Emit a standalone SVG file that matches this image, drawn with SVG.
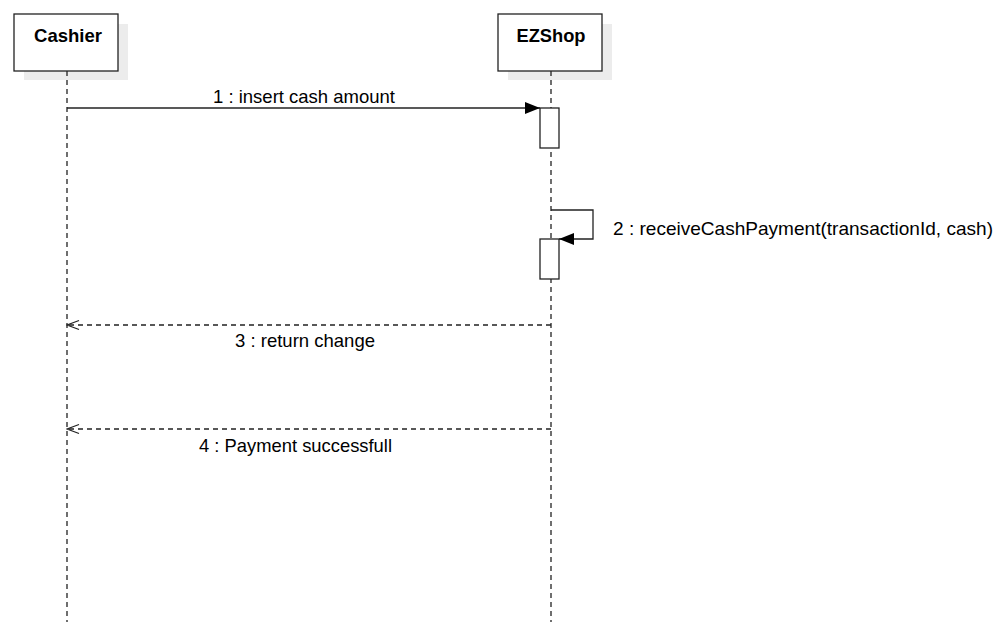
<svg xmlns="http://www.w3.org/2000/svg" width="1000" height="638" viewBox="0 0 1000 638">
<defs>
<style>
.box{fill:#fff;stroke:#222;stroke-width:1.3}
.shadow{fill:#ececec}
.name{font-family:"Liberation Sans",Arial,sans-serif;font-size:18.5px;font-weight:bold;fill:#000;text-anchor:middle}
.life{stroke:#222;stroke-width:1.3;stroke-dasharray:5,4;fill:none}
.msg{stroke:#222;stroke-width:1.3;fill:none}
.ret{stroke:#222;stroke-width:1.3;stroke-dasharray:5,4;fill:none}
.lbl{font-family:"Liberation Sans",Arial,sans-serif;font-size:18.5px;fill:#000}
.act{fill:#fff;stroke:#222;stroke-width:1.3}
</style>
<marker id="filled" markerWidth="16" markerHeight="12" refX="15" refY="6" orient="auto" markerUnits="userSpaceOnUse">
<path d="M0,0 L15,6 L0,12 Z" fill="#000"/>
</marker>
<marker id="open" markerWidth="14" markerHeight="12" refX="12.5" refY="6" orient="auto" markerUnits="userSpaceOnUse">
<path d="M0.5,1.5 L12.5,6 L0.5,10.5" fill="none" stroke="#222" stroke-width="1.3"/>
</marker>
</defs>
<rect width="1000" height="638" fill="#fff"/>
<g id="cashier">
<rect class="shadow" x="24" y="24" width="104" height="56"/>
<rect class="box" x="14" y="14" width="104" height="57"/>
<text class="name" x="68" y="42" textLength="68" lengthAdjust="spacingAndGlyphs">Cashier</text>
<line class="life" x1="67" y1="71" x2="67" y2="622"/>
</g>
<g id="ezshop">
<rect class="shadow" x="508" y="24" width="104" height="56"/>
<rect class="box" x="498" y="14" width="104" height="57"/>
<text class="name" x="551" y="42" textLength="69" lengthAdjust="spacingAndGlyphs">EZShop</text>
<line class="life" x1="551" y1="71" x2="551" y2="622"/>
<rect class="act" x="540" y="108" width="19" height="40"/>
<rect class="act" x="540" y="239" width="19" height="40"/>
</g>
<g id="connectors">
<line class="msg" x1="67" y1="108" x2="540" y2="108" marker-end="url(#filled)"/>
<text class="lbl" x="213" y="103" textLength="182" lengthAdjust="spacingAndGlyphs">1 : insert cash amount</text>
<polyline class="msg" points="551,210 593,210 593,239 559,239" marker-end="url(#filled)"/>
<text class="lbl" x="613" y="235" textLength="380" lengthAdjust="spacingAndGlyphs">2 : receiveCashPayment(transactionId, cash)</text>
<line class="ret" x1="551" y1="325" x2="67" y2="325" marker-end="url(#open)"/>
<text class="lbl" x="235" y="347" textLength="140" lengthAdjust="spacingAndGlyphs">3 : return change</text>
<line class="ret" x1="551" y1="429" x2="67" y2="429" marker-end="url(#open)"/>
<text class="lbl" x="199" y="452" textLength="193" lengthAdjust="spacingAndGlyphs">4 : Payment successfull</text>
</g>
</svg>
